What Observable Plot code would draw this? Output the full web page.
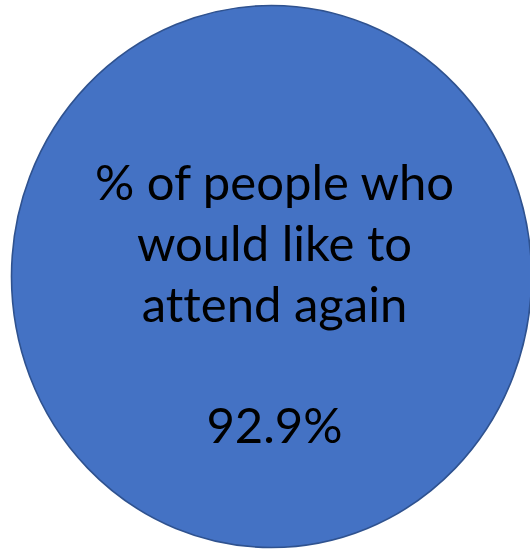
<!DOCTYPE html>
<html>
<head>
<meta charset="utf-8">
<script src="https://cdn.jsdelivr.net/npm/d3@7"></script>
<script src="https://cdn.jsdelivr.net/npm/@observablehq/plot@0.6"></script>
<style>
  html, body { margin: 0; padding: 0; background: #ffffff; }
  #chart svg { display: block; }
  #chart text { font-variant-ligatures: none; font-feature-settings: "liga" 0, "clig" 0; }
</style>
</head>
<body>
<div id="chart"></div>
<script>
// Data
const labelLines = ["% of people who", "would like to", "attend again"];
const values = [92.9];
const categories = ["Would like to attend again"];

const data = categories.map((c, i) => ({
  category: c,
  label: labelLines.join("\n"),
  value: values[i],
  cx: 0.5,
  cy: 0.5
}));

const fill = "#4472C4";
const stroke = "#2F528F";
const fontFamily = "Lato, 'Open Sans', sans-serif";
const fs = 49;

// Ellipse mark: a dot rendered as an ellipse spanning the scales' extent
function ellipseRender(index, scales, values, dims, context, next) {
  const g = next(index, scales, values, dims, context);
  const {x, y} = scales;
  const rx = Math.abs(x(1) - x(0)) / 2;
  const ry = Math.abs(y(0) - y(1)) / 2;
  d3.select(g).selectAll("circle").each(function() {
    const c = d3.select(this);
    const cx = c.attr("cx"), cy = c.attr("cy"), tr = c.attr("transform");
    const e = d3.select(g).insert("ellipse", () => this)
      .attr("rx", rx).attr("ry", ry)
      .attr("fill", fill).attr("stroke", stroke).attr("stroke-width", 1.6);
    if (cx != null) e.attr("cx", cx);
    if (cy != null) e.attr("cy", cy);
    if (tr != null) e.attr("transform", tr);
    c.remove();
  });
  return g;
}

const chart = Plot.plot({
  width: 530,
  height: 549,
  marginLeft: 11,
  marginRight: -1,
  marginTop: 5,
  marginBottom: 2,
  x: {domain: [0, 1], axis: null},
  y: {domain: [0, 1], axis: null},
  style: {background: "#ffffff", fontFamily},
  marks: [
    Plot.dot(data, {x: "cx", y: "cy", r: 10, fill, stroke, render: ellipseRender}),
    Plot.text(data, {
      x: "cx", y: "cy", text: "label",
      fontSize: fs, fill: "#000000", lineAnchor: "middle", lineHeight: 1.25,
      dx: 3, dy: -35
    }),
    Plot.text(data, {
      x: "cx", y: "cy", text: d => `${d.value.toFixed(1)}%`,
      fontSize: fs, fill: "#000000", lineAnchor: "middle",
      dx: 3, dy: 151
    })
  ]
});

document.getElementById("chart").appendChild(chart);
</script>
</body>
</html>
